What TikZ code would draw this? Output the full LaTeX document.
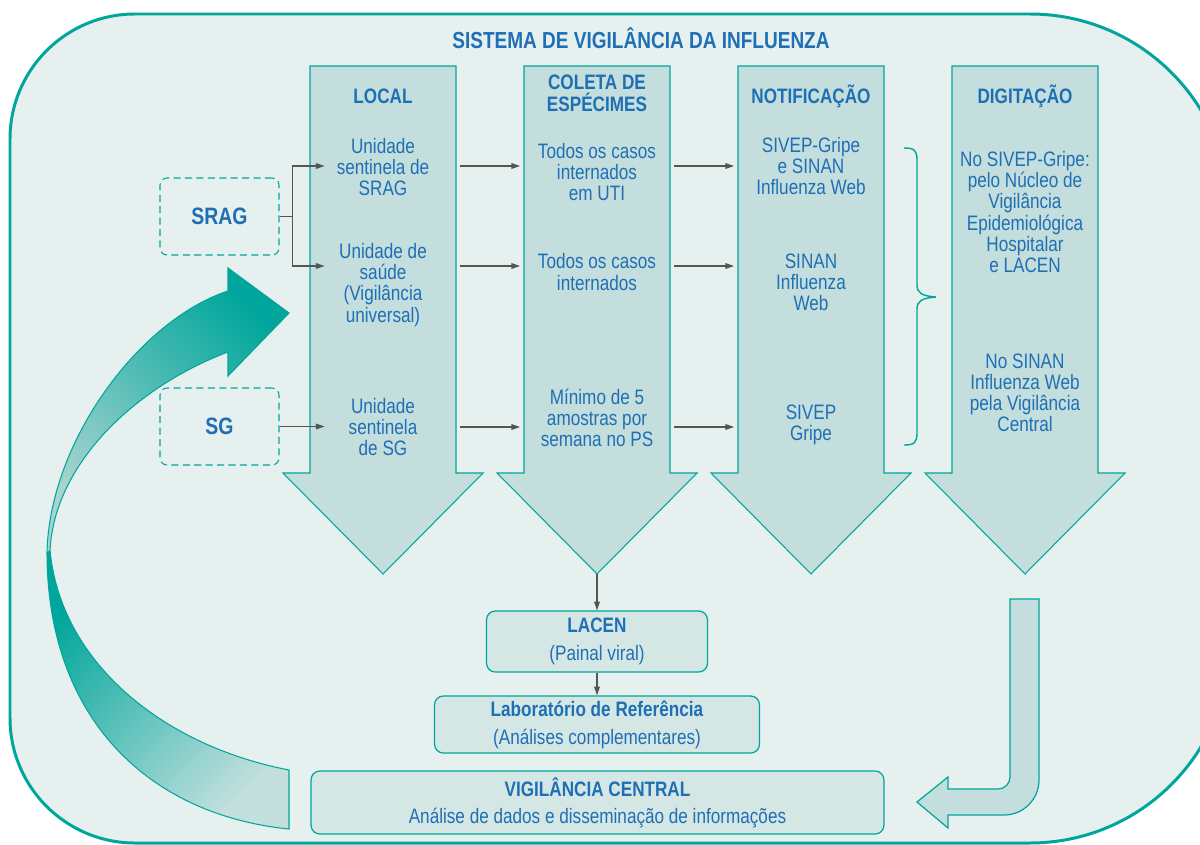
\documentclass[tikz,border=0pt]{standalone}
\usepackage{fontspec}
\setmainfont{Liberation Sans}[FakeStretch=0.82]
\usetikzlibrary{arrows.meta,calc}

\definecolor{vteal}{HTML}{00A69C}
\definecolor{vblue}{HTML}{1F6FB5}
\definecolor{bgfill}{HTML}{E6F0EF}
\definecolor{colfill}{HTML}{C3DEDC}
\definecolor{boxfill}{HTML}{D4E7E5}
\definecolor{lighttail}{HTML}{C4E0DE}
\definecolor{lighthead}{HTML}{A9D4D0}
\definecolor{arrgray}{HTML}{555555}

\begin{document}
\begin{tikzpicture}[x=0.02cm,y=0.02cm,
    txt/.style={font=\fontsize{11.9}{12}\selectfont, text=vblue, align=center, inner sep=0pt},
    hdr/.style={txt, font=\fontsize{11.9}{12.5}\selectfont\bfseries},
    shaft/.style={minimum width=2.92cm, minimum height=8.14cm, inner sep=0pt},
    casebox/.style={draw=vteal, dash pattern=on 4pt off 2.5pt, rounded corners=4pt, line width=0.6pt,
        minimum width=2.38cm, minimum height=1.54cm, font=\fontsize{13.5}{14}\selectfont\bfseries, text=vblue},
    labbox/.style={txt, draw=vteal, fill=boxfill, rounded corners=5pt, line width=0.7pt},
    post/.style={->, >={Triangle[length=5pt,width=3.2pt]}, draw=arrgray, line width=0.8pt},
    gap/.style={post, shorten <=2pt, shorten >=2pt}
    ]
\useasboundingbox (0,0) rectangle (1200,-845);

% frame
\filldraw[fill=bgfill, draw=vteal, line width=1.7pt] (10,-139) -- (10,-718)
    arc[start angle=180, end angle=270, radius=125] -- (1030,-843)
    arc[start angle=270, end angle=360, radius=200] -- (1230,-214)
    arc[start angle=0, end angle=90, radius=200] -- (135,-14)
    arc[start angle=90, end angle=180, radius=125] -- cycle;

\node[hdr, font=\fontsize{13.2}{14}\selectfont\bfseries] (title) at (641,-38) {SISTEMA DE VIGILÂNCIA DA INFLUENZA};

% the four columns
\foreach \x/\n in {383/local,597/coleta,811/notif,1025/digit}{
  \filldraw[fill=colfill, draw=vteal, line width=0.6pt] ({\x-73},-66) -- ({\x+73},-66) -- ({\x+73},-473)
      -- ({\x+100},-473) -- (\x,-574) -- ({\x-100},-473) -- ({\x-73},-473) -- cycle;
  \node[shaft] (\n) at (\x,-269.5) {};
  \coordinate (\n-tip) at (\x,-574);
}
\coordinate (row1) at (0,-166);
\coordinate (row2) at (0,-266);
\coordinate (row3) at (0,-427);

\node[hdr] (hlocal) at (383,-96) {LOCAL};
\node[hdr] (hcoleta) at (597,-93) {COLETA DE\\ESPÉCIMES};
\node[hdr] (hnotif) at (811,-96) {NOTIFICAÇÃO};
\node[hdr] (hdigit) at (1025,-96) {DIGITAÇÃO};

\node[txt] (loc1) at (383,-167) {Unidade\\sentinela de\\SRAG};
\node[txt] (loc2) at (383,-285) {Unidade de\\saúde\\(Vigilância\\universal)};
\node[txt] (loc3) at (383,-427) {Unidade\\sentinela\\de SG};

\node[txt] (cas1) at (597,-172) {Todos os casos\\internados\\em UTI};
\node[txt] (cas2) at (597,-272) {Todos os casos\\internados};
\node[txt] (cas3) at (597,-418) {Mínimo de 5\\amostras por\\semana no PS};

\node[txt] (not1) at (811,-166) {SIVEP-Gripe\\e SINAN\\Influenza Web};
\node[txt] (not2) at (811,-282) {SINAN\\Influenza\\Web};
\node[txt] (not3) at (811,-425) {SIVEP\\Gripe};

\node[txt] (dig1) at (1025,-212) {No SIVEP-Gripe:\\pelo Núcleo de\\Vigilância\\Epidemiológica\\Hospitalar\\e LACEN};
\node[txt] (dig2) at (1025,-393) {No SINAN\\Influenza Web\\pela Vigilância\\Central};

\node[casebox] (srag) at (219.5,-216.5) {SRAG};
\node[casebox] (sg) at (219.5,-426.5) {SG};

\draw[post] (srag.east) -- ++(13,0) |- ($(local.west |- row1)+(15,0)$);
\draw[post] (srag.east) -- ++(13,0) |- ($(local.west |- row2)+(15,0)$);
\draw[post] (sg.east) -- ($(local.west |- sg.east)+(15,0)$);
\foreach \r in {1,2,3}{
  \draw[gap] (local.east |- row\r) -- (coleta.west |- row\r);
  \draw[gap] (coleta.east |- row\r) -- (notif.west |- row\r);
}

% brace towards DIGITACAO
\draw[vteal, line width=0.8pt] (904,-148) .. controls (914,-148) and (917,-150) .. (917,-160) -- (917,-285)
    .. controls (917,-293) and (922,-296) .. (936,-297) .. controls (922,-298) and (917,-301) .. (917,-309)
    -- (917,-433) .. controls (917,-443) and (914,-445) .. (904,-445);

% laboratories and central
\node[labbox, minimum width=4.42cm, minimum height=1.22cm] (lacen) at (597,-641.5) {\textbf{LACEN}\\[4pt](Painal viral)};
\node[labbox, minimum width=6.5cm, minimum height=1.14cm] (lab) at (597,-724.5) {\textbf{Laboratório de Referência}\\[4pt](Análises complementares)};
\node[labbox, minimum width=11.46cm, minimum height=1.26cm] (central) at (597.5,-802.5) {\textbf{VIGILÂNCIA CENTRAL}\\[3.5pt]Análise de dados e disseminação de informações};
\draw[post] (coleta-tip) -- (lacen);
\draw[post] (lacen) -- (lab);

% return arrow into the central box
\filldraw[fill=colfill, draw=vteal, line width=0.7pt] (1010,-599) -- (1039,-599) -- (1039,-780)
    arc[start angle=0, end angle=-90, radius=35] -- (948,-815) -- (948,-828) -- (917,-802)
    -- (948,-777) -- (948,-789) -- (998,-789) arc[start angle=270, end angle=360, radius=12] -- cycle;

% feedback arrow back to the local level
\shade[top color=vteal, bottom color=lighttail, shading angle=45] (289,-829) .. controls (150,-815) and (47,-720) .. (47,-552)
    -- (50,-550) .. controls (60,-660) and (160,-745) .. (289,-770) -- cycle;
\shade[top color=vteal, bottom color=lighthead, shading angle=-45] (47,-552) .. controls (50,-440) and (140,-320) .. (228,-291)
    -- (228,-268) -- (289,-313) -- (228,-376) -- (228,-352) .. controls (140,-385) and (55,-460) .. (50,-550) -- cycle;
\draw[vteal, line width=0.6pt] (289,-829) .. controls (150,-815) and (47,-720) .. (47,-552)
    .. controls (50,-440) and (140,-320) .. (228,-291) -- (228,-268) -- (289,-313) -- (228,-376) -- (228,-352)
    .. controls (140,-385) and (55,-460) .. (50,-550) .. controls (60,-660) and (160,-745) .. (289,-770) -- cycle;

\end{tikzpicture}
\end{document}
